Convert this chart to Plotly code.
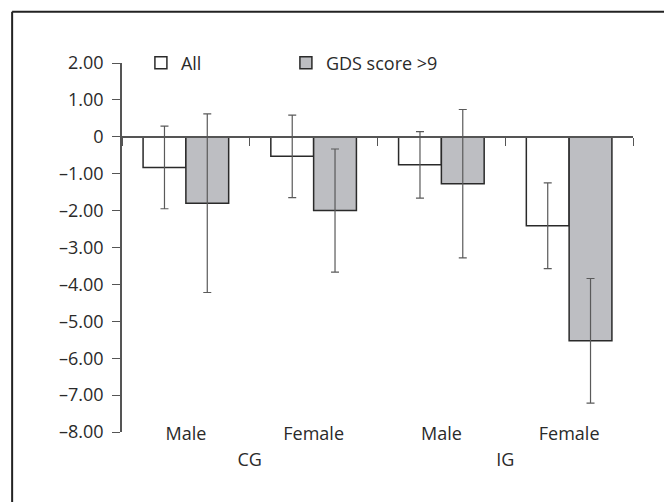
import plotly.graph_objects as go

groups = ["CG", "CG", "IG", "IG"]
sexes = ["Male", "Female", "Male", "Female"]
all_vals = [-0.83, -0.53, -0.76, -2.41]
all_err = [1.12, 1.12, 0.90, 1.16]
gds_vals = [-1.80, -2.00, -1.27, -5.53]
gds_err = [2.42, 1.67, 2.01, 1.69]
y_tickvals = [2, 1, 0, -1, -2, -3, -4, -5, -6, -7, -8]
y_ticktext = ["2.00", "1.00", "0", "–1.00", "–2.00", "–3.00", "–4.00",
              "–5.00", "–6.00", "–7.00", "–8.00"]

FONT = "Open Sans"
FS = 18
TXT = "#2a2a2a"

fig = go.Figure()
fig.add_trace(go.Bar(
    x=[groups, sexes], y=all_vals, name="All", legendwidth=100,
    marker=dict(color="white", line=dict(color="#2a2a2a", width=1.5)),
    error_y=dict(type="data", array=all_err, color="#5a5a5a", thickness=1.2, width=4),
))
fig.add_trace(go.Bar(
    x=[groups, sexes], y=gds_vals, name="GDS score >9", legendwidth=160,
    marker=dict(color="#bdbec2", line=dict(color="#2a2a2a", width=1.5)),
    error_y=dict(type="data", array=gds_err, color="#5a5a5a", thickness=1.2, width=4),
))
# invisible helper trace to carry the zero-level axis with boundary ticks
fig.add_trace(go.Scatter(
    x=[g + " " + s for g, s in zip(groups, sexes)], y=all_vals,
    xaxis="x2", mode="markers", marker=dict(opacity=0),
    showlegend=False, hoverinfo="skip",
))

fig.update_layout(
    width=664, height=502,
    margin=dict(l=122, r=31, t=63, b=70, autoexpand=False),
    paper_bgcolor="white", plot_bgcolor="white",
    font=dict(family=FONT, size=FS, color=TXT),
    barmode="group", bargap=0.33, bargroupgap=0,
    showlegend=True,
    legend=dict(
        orientation="h", x=0.037, xanchor="left", y=1.0, yanchor="middle",
        font=dict(family=FONT, size=FS, color=TXT),
        bgcolor="rgba(0,0,0,0)", itemclick=False,
    ),
    xaxis=dict(
        type="multicategory", range=[-0.5, 3.5],
        anchor="free", position=0.031, automargin=False,
        showline=False, ticks="", showgrid=False, zeroline=False,
        showdividers=False,
        tickfont=dict(family=FONT, size=FS, color=TXT),
    ),
    xaxis2=dict(
        type="category", range=[-0.5, 3.5], overlaying="x",
        anchor="free", position=0.8, side="bottom", automargin=False,
        showline=True, linecolor="#555555", linewidth=1.5,
        ticks="outside", ticklen=8, tickwidth=1.2, tickcolor="#555555",
        tickson="boundaries", showticklabels=False, showgrid=False,
        zeroline=False,
    ),
    yaxis=dict(
        range=[-8, 2], anchor="x", automargin=False,
        tickvals=y_tickvals, ticktext=y_ticktext,
        showline=True, linecolor="#555555", linewidth=1.5,
        ticks="outside", ticklen=8, tickwidth=1.2, tickcolor="#555555",
        ticklabelstandoff=5,
        showgrid=False, zeroline=False,
        tickfont=dict(family=FONT, size=FS, color=TXT),
    ),
    shapes=[
        dict(type="line", xref="paper", yref="paper",
             x0=-0.215, x1=1.2, y0=1.139, y1=1.139,
             line=dict(color="#222222", width=2)),
        dict(type="line", xref="paper", yref="paper",
             x0=-0.215, x1=-0.215, y0=1.139, y1=-0.3,
             line=dict(color="#222222", width=2)),
    ],
)

fig.write_html("out.html", config={"displayModeBar": False},
               post_script="document.body.style.margin='0px';")
